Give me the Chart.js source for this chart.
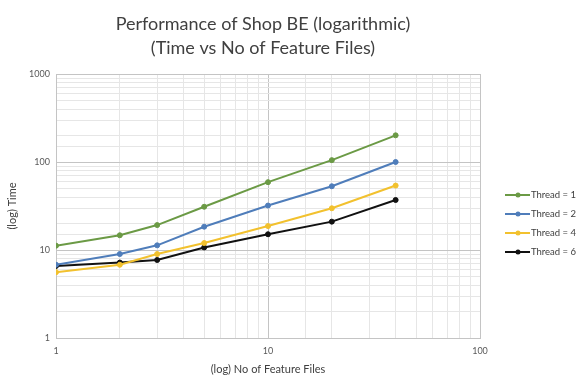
<!DOCTYPE html>
<html>
<head>
<meta charset="utf-8">
<script src="https://cdn.jsdelivr.net/npm/chart.js@4.4.1/dist/chart.umd.min.js"></script>
<style>
  body { margin: 0; background: #fff; }
  #wrap { width: 579px; height: 376px; position: relative; }
</style>
</head>
<body>
<div id="wrap"><canvas id="myChart"></canvas></div>
<script>
// feature files (x) and times per thread count (y)
let files = [1, 2, 3, 5, 10, 20, 40];
let thread1 = [11.2, 14.7, 19.2, 31, 59, 105, 201];
let thread2 = [6.8, 9.0, 11.3, 18.4, 32, 53, 100];
let thread4 = [5.6, 6.8, 9.0, 12.0, 18.7, 29.8, 54];
let thread6 = [6.6, 7.2, 7.7, 10.7, 15.1, 21, 37];
let seriesNames = ['Thread = 1', 'Thread = 2', 'Thread = 4', 'Thread = 6'];
let seriesColors = ['#6b9a45', '#4f7dba', '#f2c12e', '#111111'];

let fontName = 'Lato, "Open Sans", sans-serif';

function pts(vals) {
    return files.map(function (f, i) { return {x: f, y: vals[i]}; });
}

function isMajor(v) {
    let l = Math.log10(v);
    return Math.abs(l - Math.round(l)) < 1e-9;
}

let allSeries = [thread1, thread2, thread4, thread6];
let datasets = allSeries.map(function (vals, i) {
    return {
        label: seriesNames[i],
        data: pts(vals),
        borderColor: seriesColors[i],
        backgroundColor: seriesColors[i],
        borderWidth: 2,
        pointRadius: 2.5,
        pointBorderWidth: 1,
        pointHoverRadius: 2.5,
        tension: 0
    };
});

// legend on the right: short line with a dot, then the name
let sideLegend = {
    id: 'sideLegend',
    afterDraw: function (chart) {
        let ctx = chart.ctx;
        ctx.save();
        ctx.font = '9.5px ' + fontName;
        ctx.textBaseline = 'middle';
        chart.data.datasets.forEach(function (ds, i) {
            let y = 195 + i * 19;
            ctx.strokeStyle = ds.borderColor;
            ctx.lineWidth = 2;
            ctx.beginPath();
            ctx.moveTo(505, y);
            ctx.lineTo(530, y);
            ctx.stroke();
            ctx.fillStyle = ds.borderColor;
            ctx.beginPath();
            ctx.arc(518, y, 2.5, 0, Math.PI * 2);
            ctx.fill();
            ctx.fillStyle = '#404040';
            ctx.fillText(ds.label, 531, y);
        });
        ctx.restore();
    }
};

let gridColor = function (c) {
    if (!c.tick) return '#e6e6e6';
    return isMajor(c.tick.value) ? '#c4c4c4' : '#e6e6e6';
};

let ctx = document.getElementById('myChart').getContext('2d');
let myChart = new Chart(ctx, {
    type: 'line',
    data: { datasets: datasets },
    plugins: [sideLegend],
    options: {
        responsive: true,
        maintainAspectRatio: false,
        animation: false,
        layout: { padding: { left: 0, right: 53, top: 0, bottom: 0 } },
        plugins: {
            legend: { display: false },
            tooltip: { enabled: false },
            title: {
                display: true,
                text: ['Performance of Shop BE (logarithmic)', '(Time vs No of Feature Files)'],
                color: '#404040',
                font: { family: fontName, size: 18, weight: 'normal', lineHeight: '24px' },
                padding: { top: 12, bottom: 14 }
            }
        },
        scales: {
            x: {
                type: 'logarithmic',
                min: 1,
                max: 100,
                grid: { color: gridColor, drawTicks: false },
                border: { color: '#c4c4c4' },
                ticks: {
                    autoSkip: false,
                    maxRotation: 0,
                    padding: 8,
                    color: '#595959',
                    font: { family: fontName, size: 9 },
                    callback: function (v) { return isMajor(v) ? String(v) : ''; }
                },
                title: {
                    display: true,
                    text: '(log) No of Feature Files',
                    color: '#404040',
                    font: { family: fontName, size: 11 },
                    padding: { top: 1, bottom: 0 }
                },
                afterFit: function (s) { s.height = 38; }
            },
            y: {
                type: 'logarithmic',
                min: 1,
                max: 1000,
                grid: { color: gridColor, drawTicks: false },
                border: { color: '#c4c4c4' },
                ticks: {
                    autoSkip: false,
                    padding: 6,
                    color: '#595959',
                    font: { family: fontName, size: 9 },
                    callback: function (v) { return isMajor(v) ? String(v) : ''; }
                },
                title: {
                    display: true,
                    text: '(log) Time',
                    color: '#404040',
                    font: { family: fontName, size: 11 },
                    padding: { top: 6, bottom: 0 }
                },
                afterFit: function (s) { s.width = 56; }
            },
            // empty box on the right, keeps room for the legend
            spacer: {
                type: 'linear',
                position: 'right',
                grid: { drawOnChartArea: false, drawTicks: false },
                border: { display: false },
                ticks: { display: false },
                afterFit: function (s) { s.width = 46; }
            }
        }
    }
});
</script>
</body>
</html>
